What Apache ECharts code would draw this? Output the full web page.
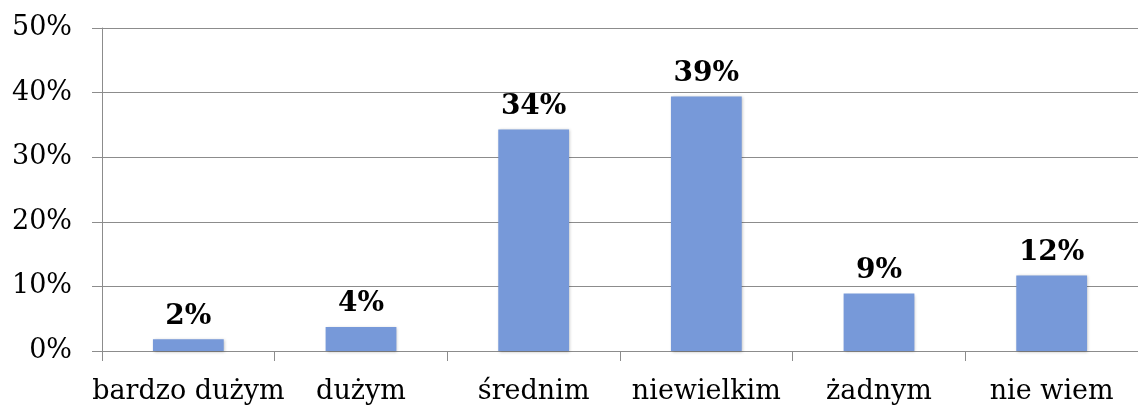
<!DOCTYPE html>
<html><head><meta charset="utf-8">
<script src="https://cdn.jsdelivr.net/npm/echarts@6/dist/echarts.min.js"></script>
<style>html,body{margin:0;padding:0;background:#fff}#c{width:1138px;height:405px}</style>
</head><body><div id="c"></div>
<script>
const categories = ['bardzo dużym', 'dużym', 'średnim', 'niewielkim', 'żadnym', 'nie wiem'];
const values = [1.8, 3.7, 34.3, 39.4, 8.9, 11.7];
const yTicks = [0, 10, 20, 30, 40, 50];
const font = '"DejaVu Serif", "Liberation Serif", serif';
const chart = echarts.init(document.getElementById('c'));
chart.setOption({
  animation: false,
  grid: {left: 102, right: 0, top: 28, bottom: 53},
  xAxis: {
    type: 'category', data: categories,
    axisLine: {lineStyle: {color: '#8c8c8c', width: 1}},
    axisTick: {show: true, alignWithLabel: false, length: 10, lineStyle: {color: '#8c8c8c'}},
    axisLabel: {color: '#000', fontFamily: font, fontSize: 27, margin: 27, interval: 0}
  },
  yAxis: {
    type: 'value', min: yTicks[0], max: yTicks[yTicks.length - 1], interval: 10,
    axisLine: {show: true, lineStyle: {color: '#8c8c8c'}},
    axisTick: {show: true, length: 10, lineStyle: {color: '#8c8c8c'}},
    splitLine: {lineStyle: {color: '#8c8c8c', width: 1}},
    axisLabel: {color: '#000', fontFamily: font, fontSize: 27, margin: 30, formatter: v => v + '%'}
  },
  series: [{
    type: 'bar', data: values, barWidth: '41%',
    itemStyle: {color: '#7799d9', shadowColor: 'rgba(0,0,0,0.25)', shadowBlur: 3, shadowOffsetX: 1, shadowOffsetY: 1},
    label: {show: true, position: 'top', distance: 9, color: '#000', fontFamily: font, fontWeight: 'bold', fontSize: 28,
      formatter: p => Math.round(p.value) + '%'}
  }]
});
</script></body></html>
